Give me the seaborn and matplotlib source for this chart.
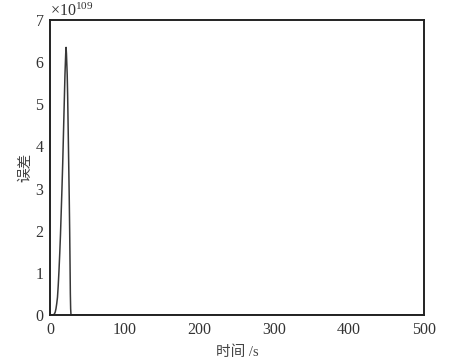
import numpy as np
import pandas as pd
import matplotlib
matplotlib.use("Agg")
import matplotlib.pyplot as plt
import seaborn as sns
from matplotlib.ticker import ScalarFormatter

# data (error in units of 1e109)
time_s = [0, 3, 5, 6, 7, 8, 9, 10, 11, 12, 13, 14, 15, 16, 17, 18, 19, 20, 21, 21.5,
          22, 23, 23.6, 24.3, 25, 25.7, 26.3, 26.8, 27.2, 27.6, 28, 28.5, 100, 200, 300, 400, 500]
error_e109 = [0, 0, 0.01, 0.03, 0.07, 0.15, 0.27, 0.42, 0.7, 1.05, 1.45, 1.9, 2.45, 3.0, 3.6, 4.3, 5.0, 5.7, 6.2, 6.35,
              6.2, 5.7, 5.2, 4.4, 3.6, 2.8, 2.0, 1.2, 0.5, 0.15, 0.02, 0, 0, 0, 0, 0, 0]
scale = 1e109

x_ticks = [0, 100, 200, 300, 400, 500]
y_ticks = [0, 1, 2, 3, 4, 5, 6, 7]
x_label = "时间 /s"
y_label = "误差"

df = pd.DataFrame({"t": time_s, "err": np.array(error_e109) * scale})

sns.set_theme(style="white")
plt.rcParams["font.family"] = ["Liberation Serif", "Noto Sans CJK SC"]
plt.rcParams["mathtext.fontset"] = "custom"
plt.rcParams["mathtext.rm"] = "Liberation Serif"
plt.rcParams["text.color"] = "#333333"

fig = plt.figure(figsize=(4.5, 3.64), dpi=100)
ax = fig.add_axes([50 / 450, 1 - 315 / 364, (424 - 50) / 450, (315 - 20) / 364])
sns.lineplot(data=df, x="t", y="err", ax=ax, color="#383838", linewidth=1.1)

ax.set_xlim(0, 500)
ax.set_ylim(0, 7 * scale)
ax.set_xticks(x_ticks)
ax.set_yticks([v * scale for v in y_ticks])
fmt = ScalarFormatter(useMathText=True)
fmt.set_powerlimits((0, 0))
ax.yaxis.set_major_formatter(fmt)
ax.yaxis.get_offset_text().set_fontsize(11.5)
ax.yaxis.get_offset_text().set_color("#333333")

ax.set_xlabel(x_label, fontsize=10.5, color="#444444", labelpad=5)
ax.set_ylabel(y_label, fontsize=10.5, color="#444444", labelpad=1.5)
ax.tick_params(axis="both", direction="in", length=3, width=0.8, labelsize=11.5,
               colors="#222222", labelcolor="#333333")
ax.tick_params(axis="x", pad=5)
ax.tick_params(axis="y", pad=4)
for s in ax.spines.values():
    s.set_color("#222222")
    s.set_linewidth(1.4)

fig.savefig("out.png", dpi=100)
